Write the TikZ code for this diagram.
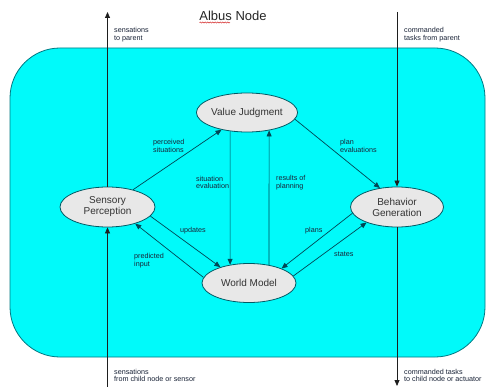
\documentclass[tikz,border=0pt]{standalone}
\usepackage{fontspec}
\setmainfont{Liberation Sans}
\usetikzlibrary{shapes.geometric,arrows.meta,decorations.pathmorphing}
\definecolor{cyanfill}{RGB}{0,250,250}
\definecolor{rectborder}{RGB}{0,120,130}
\definecolor{ellfill}{RGB}{232,232,232}
\definecolor{ellborder}{RGB}{0,90,100}
\definecolor{innerline}{RGB}{0,70,85}
\definecolor{outerline}{RGB}{30,30,30}
\definecolor{labeltext}{RGB}{25,35,55}
\begin{document}
\begin{tikzpicture}[x=1pt,y=-1pt,
  proc/.style={ellipse,draw=ellborder,fill=ellfill,line width=0.8pt,inner sep=0pt,
    minimum width=94pt,minimum height=39pt,align=center,
    font=\fontsize{10}{11}\selectfont,text=black!80},
  lbl/.style={anchor=west,align=left,inner sep=0pt,text=labeltext,
    font=\fontsize{7.2}{7.6}\selectfont},
  flow/.style={draw=innerline,line width=0.7pt,-{Triangle[length=6pt,width=5pt]}},
  ext/.style={draw=outerline,line width=0.8pt},
  exta/.style={ext,-{Triangle[length=6pt,width=5pt]}}]
\useasboundingbox (0,0) rectangle (486,387);
\fill[white] (0,0) rectangle (486,387);
% container
\draw[fill=cyanfill,draw=rectborder,line width=0.8pt,rounded corners=50pt]
  (10,48) rectangle (485,357);
% title
\node[inner sep=0pt,font=\fontsize{13}{14}\selectfont,text=black!85] (title) at (233,15.5) {Albus Node};
\draw[red!80!black,line width=0.4pt,decorate,decoration={snake,amplitude=0.6pt,segment length=2.5pt}]
  (199.5,22.5) -- (230,22.5);
% nodes
\node[proc] (VJ) at (247,112.5) {Value Judgment};
\node[proc,minimum width=95pt,minimum height=40pt] (SP) at (107.5,207) {Sensory\\Perception};
\node[proc,minimum width=93pt,minimum height=40pt] (BG) at (397,207) {Behavior\\Generation};
\node[proc] (WM) at (249,283) {World Model};
% external coordinates
\coordinate (sTop) at (107.5,12);
\coordinate (sBot) at (107.5,387);
\coordinate (cTop) at (397,12);
\coordinate (cBot) at (397,386);
% external lines
\draw[exta] (SP.north) -- (sTop);
\draw[exta] (sBot) -- (SP.south);
\draw[exta] (cTop) -- (BG.north);
\draw[exta] (BG.south) -- (cBot);
% internal flows
\draw[flow] (SP) -- (VJ);
\draw[flow] (VJ.-8) -- (BG.132);
\draw[flow] (VJ.228) -- (WM.136);
\draw[flow] (WM.42) -- (VJ.-39);
\draw[flow] (SP.-12) -- (WM.151);
\draw[flow] (WM.173) -- (SP.-31);
\draw[flow] (BG.188) -- (WM.24);
\draw[flow] (WM.9) -- (BG.207);
% labels
\node[lbl] (l1) at (153,146) {perceived\\situations};
\node[lbl] (l2) at (340,146) {plan\\evaluations};
\node[lbl] (l3) at (196,182.5) {situation\\evaluation};
\node[lbl] (l4) at (276,182.5) {results of\\planning};
\node[lbl] (l5) at (180,231) {updates};
\node[lbl] (l6) at (134,260.5) {predicted\\input};
\node[lbl] (l7) at (305,231) {plans};
\node[lbl] (l8) at (334,254) {states};
\node[lbl] (l9) at (114,34.5) {sensations\\to parent};
\node[lbl] (l10) at (404,34.5) {commanded\\tasks from parent};
\node[lbl] (l11) at (114,375.5) {sensations\\from child node or sensor};
\node[lbl] (l12) at (404,375.5) {commanded tasks\\to child node or actuator};
\end{tikzpicture}
\end{document}
